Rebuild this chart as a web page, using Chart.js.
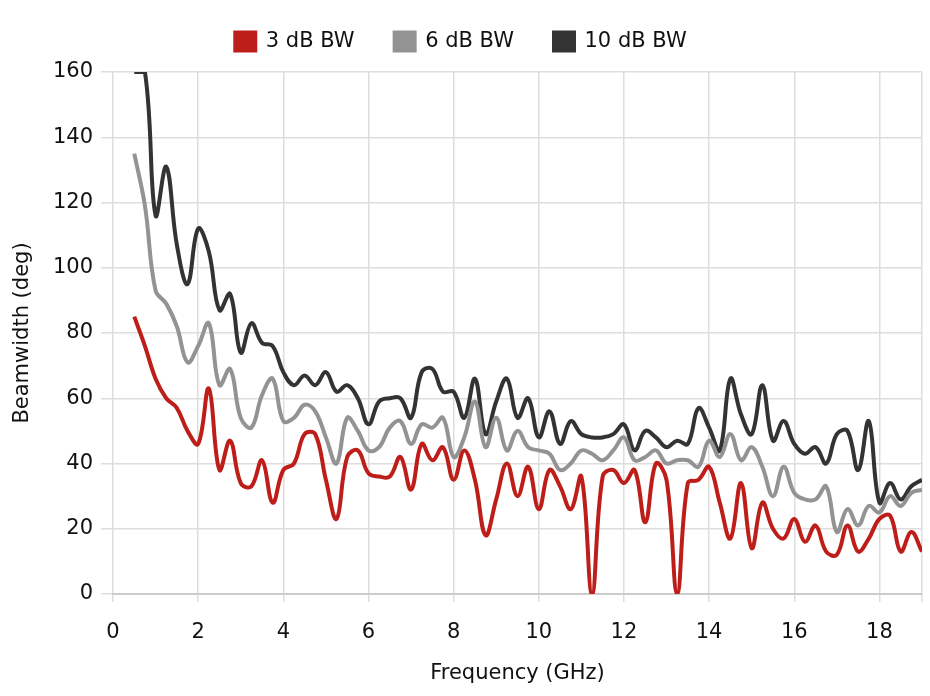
<!DOCTYPE html>
<html>
<head>
<meta charset="utf-8">
<script src="https://cdn.jsdelivr.net/npm/chart.js@4.4.1/dist/chart.umd.min.js"></script>
<style>
  html, body { margin: 0; padding: 0; background: #fff; }
  #wrap { width: 930px; height: 696px; position: relative; }
</style>
</head>
<body>
<div id="wrap"><canvas id="c" width="930" height="696"></canvas></div>
<script>
const frequencies = [0.5,0.75,1,1.25,1.5,1.75,2,2.25,2.5,2.75,3,3.25,3.5,3.75,4,4.25,4.5,4.75,5,5.25,5.5,5.75,6,6.25,6.5,6.75,7,7.25,7.5,7.75,8,8.25,8.5,8.75,9,9.25,9.5,9.75,10,10.25,10.5,10.75,11,11.25,11.5,11.75,12,12.25,12.5,12.75,13,13.25,13.5,13.75,14,14.25,14.5,14.75,15,15.25,15.5,15.75,16,16.25,16.5,16.75,17,17.25,17.5,17.75,18,18.25,18.5,18.75,19];

const bw3dB = [85,76,66,60,57,50,46,63,38,47,34,33,41,28,38,40,49,49,35,23,42,44,37,36,36,42,32,46,41,45,35,44,35,18,29,40,30,39,26,38,33,26,36,0,36,38,34,38,22,40,35,0,34,35,39,28,17,34,14,28,20,17,23,16,21,13,12,21,13,17,23,24,13,19,13];

const bw6dB = [135,119,93,89,82,71,76,83,64,69,54,51,61,66,53,54,58,56,48,40,54,50,44,45,51,53,46,52,51,54,42,48,59,45,54,44,50,45,44,43,38,40,44,43,41,44,48,41,42,44,40,41,41,39,47,42,49,41,45,39,30,39,31,29,29,33,19,26,21,27,25,30,27,31,32];

const bw10dB = [160,160,116,131,107,95,112,105,87,92,74,83,77,76,68,64,67,64,68,62,64,60,52,59,60,60,54,68,69,62,62,54,66,49,59,66,54,60,48,56,46,53,49,48,48,49,52,44,50,48,45,47,46,57,51,44,66,55,49,64,47,53,46,43,45,40,49,50,38,53,28,34,29,33,35];

const seriesNames = ['3 dB BW', '6 dB BW', '10 dB BW'];
const seriesColors = ['#be1e1a', '#939393', '#333333'];
const xTickLabels = [0,2,4,6,8,10,12,14,16,18];
const yTickLabels = [0,20,40,60,80,100,120,140,160];

const FONT = "'DejaVu Sans', sans-serif";
const toPts = arr => arr.map((v, i) => ({ x: frequencies[i], y: v }));

const datasets = [bw3dB, bw6dB, bw10dB].map((arr, i) => ({
  label: seriesNames[i],
  data: toPts(arr),
  borderColor: seriesColors[i],
  backgroundColor: seriesColors[i],
  borderWidth: 4,
  pointRadius: 0,
  tension: 0.4,
  fill: false
}));

const legendSpacer = {
  id: 'legendSpacer',
  beforeInit(chart) {
    const origFit = chart.legend.fit;
    chart.legend.fit = function () {
      origFit.call(this);
      this.height += 10;
    };
  }
};

new Chart(document.getElementById('c'), {
  type: 'line',
  data: { datasets },
  plugins: [legendSpacer],
  options: {
    responsive: false,
    animation: false,
    layout: { padding: { left: 0, right: 8, top: -9, bottom: 0 } },
    plugins: {
      legend: {
        position: 'top',
        labels: {
          boxWidth: 20, boxHeight: 18, padding: 40,
          color: '#111',
          font: { family: FONT, size: 21 }
        }
      },
      tooltip: { enabled: false }
    },
    scales: {
      x: {
        type: 'linear',
        min: 0, max: 19,
        ticks: {
          stepSize: 2,
          color: '#111',
          font: { family: FONT, size: 21 },
          padding: 18,
          maxRotation: 0,
          callback: v => xTickLabels.includes(v) ? String(v) : ''
        },
        grid: { color: '#dddddd', lineWidth: 1.5, tickLength: 8 },
        border: { color: '#cccccc', width: 2 },
        title: { display: true, text: 'Frequency (GHz)', color: '#111', font: { family: FONT, size: 21 }, padding: { top: 10, bottom: 10 } },
        afterFit: s => { s.height = 102; s.paddingRight = 0; s.paddingLeft = 0; }
      },
      y: {
        min: 0, max: 160,
        ticks: {
          stepSize: 20,
          color: '#111',
          font: { family: FONT, size: 21 },
          padding: 8,
          callback: v => yTickLabels.includes(v) ? String(v) : ''
        },
        grid: { color: '#dddddd', lineWidth: 1.5, tickLength: 12 },
        border: { display: false },
        title: { display: true, text: 'Beamwidth (deg)', color: '#111', font: { family: FONT, size: 21 }, padding: { top: 10, bottom: 4 } },
        afterFit: s => { s.width = 113; }
      }
    }
  }
});
</script>
</body>
</html>
